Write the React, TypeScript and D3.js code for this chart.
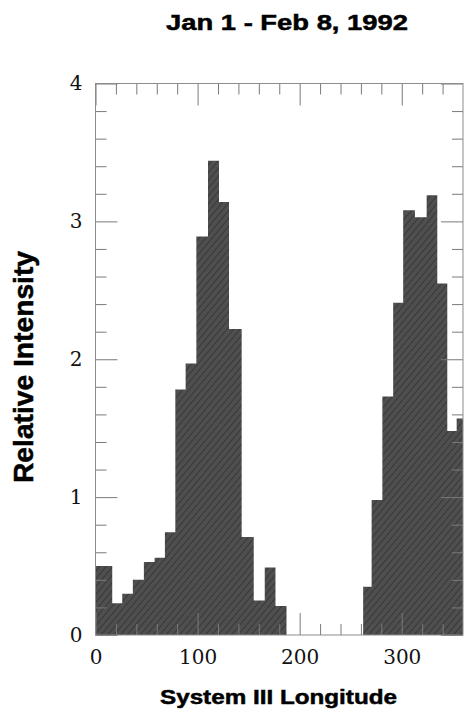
import React, { useEffect, useRef } from 'react';
import * as d3 from 'd3';

// histogram bin edges (System III longitude, degrees) and the intensity of each bin
const binEdges = [0, 16.4, 26.2, 36.6, 47.4, 57.9, 68, 78.2, 88.3, 98.8, 110.2, 121, 130.8, 143.2, 155, 165.8, 176.3, 187.1, 262.2, 270.5, 281, 291.6, 301.4, 312.9, 324.4, 334.8, 344.6, 353.8, 360];
const intensity = [0.5, 0.23, 0.3, 0.4, 0.53, 0.56, 0.745, 1.78, 1.97, 2.89, 3.44, 3.14, 2.22, 0.71, 0.25, 0.49, 0.21, 0, 0.35, 0.98, 1.73, 2.41, 3.08, 3.03, 3.19, 2.55, 1.48, 1.57];

const xMajor = [0, 100, 200, 300];
const xMinor = [20, 40, 60, 80, 120, 140, 160, 180, 220, 240, 260, 280, 320, 340];
const yMajor = [0, 1, 2, 3, 4];
const yMinor = [0.2, 0.4, 0.6, 0.8, 1.2, 1.4, 1.6, 1.8, 2.2, 2.4, 2.6, 2.8, 3.2, 3.4, 3.6, 3.8];

const title = 'Jan 1 - Feb 8, 1992';
const xTitle = 'System III Longitude';
const yTitle = 'Relative Intensity';

function App() {
  const ref = useRef<SVGSVGElement>(null);

  useEffect(() => {
    const svg = d3.select(ref.current);
    svg.selectAll('*').remove();

    const left = 95.5, right = 463, top = 83.5, bottom = 635;
    const x = d3.scaleLinear().domain([0, 360]).range([left, right]);
    const y = d3.scaleLinear().domain([0, 4]).range([bottom, top]);

    const defs = svg.append('defs');
    const pat = defs.append('pattern')
      .attr('id', 'hatch')
      .attr('patternUnits', 'userSpaceOnUse')
      .attr('width', 5)
      .attr('height', 5)
      .attr('patternTransform', 'rotate(40)');
    pat.append('rect').attr('width', 5).attr('height', 5).attr('fill', '#4f4f4f');
    pat.append('line')
      .attr('x1', 0).attr('y1', 0).attr('x2', 0).attr('y2', 5)
      .attr('stroke', '#303030').attr('stroke-width', 1.5);

    // step outline: each bin holds its value until the next edge
    const steps = binEdges.map((e, i) => ({ x: e, v: intensity[Math.min(i, intensity.length - 1)] }));
    const area = d3.area<{ x: number; v: number }>()
      .x(d => x(d.x))
      .y0(y(0))
      .y1(d => y(d.v))
      .curve(d3.curveStepAfter);

    svg.append('path')
      .datum(steps)
      .attr('d', area)
      .attr('fill', 'url(#hatch)');

    const tickColor = '#7a7a7a';
    const styleAxis = (g: any) => {
      g.select('.domain').remove();
      g.selectAll('.tick line').attr('stroke', tickColor).attr('stroke-width', 1);
      g.selectAll('text')
        .attr('font-family', '"DejaVu Serif", serif')
        .attr('font-size', 20)
        .attr('fill', '#111');
    };

    // bottom
    svg.append('g').attr('transform', `translate(0,${bottom})`)
      .call(d3.axisBottom(x).tickValues(xMinor).tickSize(-11).tickFormat(() => ''))
      .call(styleAxis);
    svg.append('g').attr('transform', `translate(0,${bottom})`)
      .call(d3.axisBottom(x).tickValues(xMajor).tickSize(-22).tickPadding(15).tickFormat(d3.format('d')))
      .call(styleAxis);
    // top
    svg.append('g').attr('transform', `translate(0,${top})`)
      .call(d3.axisTop(x).tickValues(xMinor).tickSize(-11).tickFormat(() => ''))
      .call(styleAxis);
    svg.append('g').attr('transform', `translate(0,${top})`)
      .call(d3.axisTop(x).tickValues(xMajor).tickSize(-22).tickFormat(() => ''))
      .call(styleAxis);
    // left
    svg.append('g').attr('transform', `translate(${left},0)`)
      .call(d3.axisLeft(y).tickValues(yMinor).tickSize(-11).tickFormat(() => ''))
      .call(styleAxis);
    svg.append('g').attr('transform', `translate(${left},0)`)
      .call(d3.axisLeft(y).tickValues(yMajor).tickSize(-22).tickPadding(13).tickFormat(d3.format('d')))
      .call(styleAxis);
    // right
    svg.append('g').attr('transform', `translate(${right},0)`)
      .call(d3.axisRight(y).tickValues(yMinor).tickSize(-11).tickFormat(() => ''))
      .call(styleAxis);
    svg.append('g').attr('transform', `translate(${right},0)`)
      .call(d3.axisRight(y).tickValues(yMajor).tickSize(-22).tickFormat(() => ''))
      .call(styleAxis);

    svg.append('rect')
      .attr('x', left).attr('y', top)
      .attr('width', right - left).attr('height', bottom - top)
      .attr('fill', 'none')
      .attr('stroke', '#8c8c8c')
      .attr('stroke-width', 1);

    const bold = (sel: any) => sel
      .attr('font-family', '"Liberation Sans", Arial, sans-serif')
      .attr('font-weight', 'bold')
      .attr('fill', '#000')
      .attr('stroke', '#000')
      .attr('stroke-width', 0.5)
      .attr('text-anchor', 'middle');

    svg.append('text')
      .attr('x', 287).attr('y', 30)
      .attr('font-size', 22)
      .attr('textLength', 242)
      .attr('lengthAdjust', 'spacingAndGlyphs')
      .text(title)
      .call(bold);

    svg.append('text')
      .attr('x', 278.5).attr('y', 704)
      .attr('font-size', 21)
      .attr('textLength', 237)
      .attr('lengthAdjust', 'spacingAndGlyphs')
      .text(xTitle)
      .call(bold);

    svg.append('text')
      .attr('transform', 'translate(33,367) rotate(-90)')
      .attr('font-size', 27)
      .attr('textLength', 232)
      .attr('lengthAdjust', 'spacingAndGlyphs')
      .text(yTitle)
      .call(bold);
  }, []);

  return (
    <svg ref={ref} width="465" height="712" style={{ position: 'absolute', left: 0, top: 0, background: '#fff' }} />
  );
}

export default App;
